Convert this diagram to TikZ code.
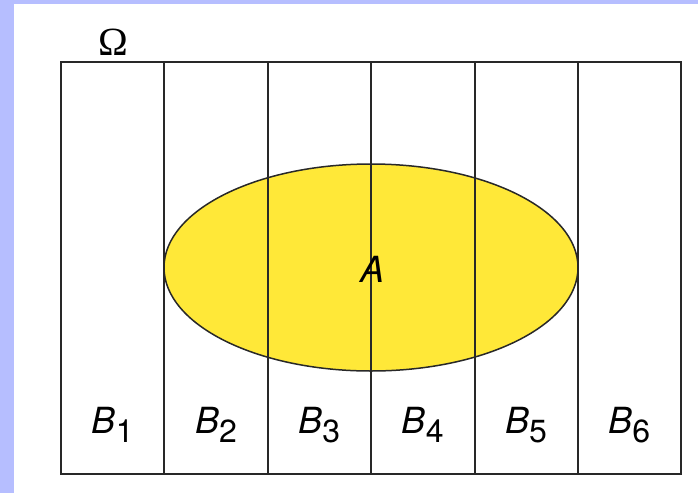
\documentclass[tikz,border=0pt]{standalone}
\usepackage{fontspec}
\newfontfamily\hv{TeX Gyre Heros}
\newfontfamily\tms{Liberation Serif}
\definecolor{band}{RGB}{182,190,255}
\definecolor{eyel}{RGB}{255,232,56}
\definecolor{ln}{RGB}{40,40,40}
\begin{document}
\begin{tikzpicture}[x=1pt,y=-1pt,
  frame/.style={draw=ln,line width=1.5pt},
  blabel/.style={anchor=base,inner sep=0pt}]
\useasboundingbox (0,0) rectangle (698,493);
\fill[white] (0,0) rectangle (698,493);
\fill[band] (0,0) rectangle (14,493);
\fill[band] (0,0) rectangle (698,3.5);
% ellipse A
\draw[frame,fill=eyel] (371,267.5) ellipse [x radius=207, y radius=103.5];
% columns
\foreach \x in {164,268,371,475,578}
  \draw[frame] (\x,62) -- (\x,474);
\draw[frame] (61,62) rectangle (681,474);
\node[blabel] (omega) at (113.5,55) {\tms\fontsize{40}{40}\selectfont Ω};
\node[blabel] (A) at (372,282) {\hv\fontsize{36}{36}\selectfont\itshape A};
\foreach \i/\x in {1/112.7,2/216,3/319.3,4/422.7,5/526,6/629.3}
  \node[blabel] (B\i) at (\x,433) {\hv\fontsize{36}{36}\selectfont\itshape B\upshape\raisebox{-9pt}{\fontsize{32}{32}\selectfont \i}};
\end{tikzpicture}
\end{document}
